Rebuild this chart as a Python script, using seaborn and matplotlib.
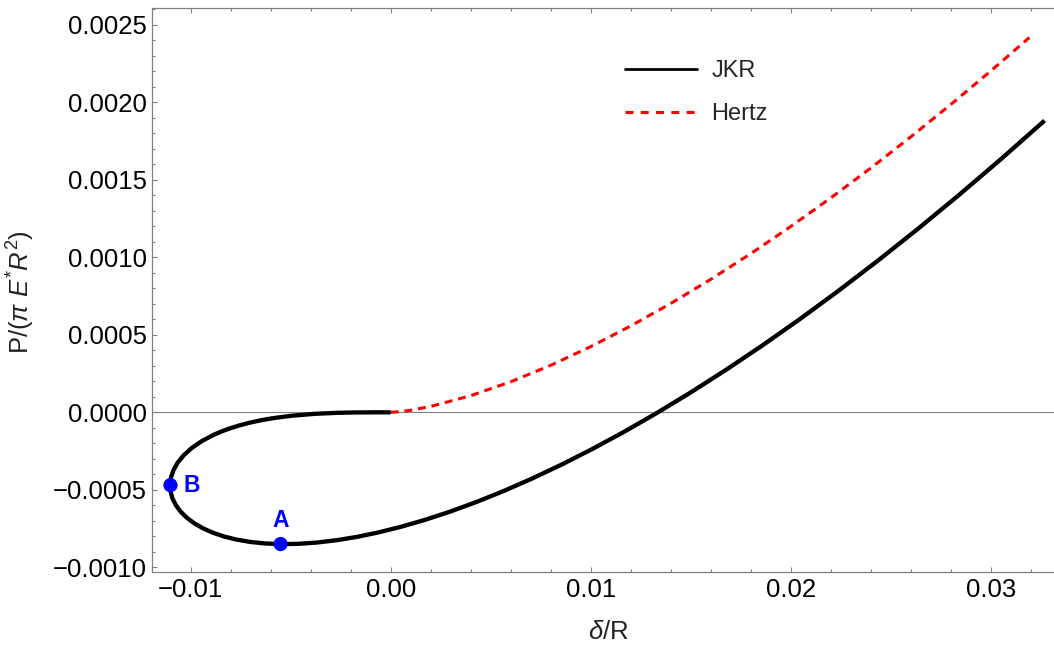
import matplotlib
matplotlib.use("Agg")
import numpy as np
import pandas as pd
import seaborn as sns
import matplotlib.pyplot as plt
from matplotlib.lines import Line2D
from matplotlib.ticker import MultipleLocator

# ---------------- data ----------------
jkr_delta = [0.0, -0.000844, -0.0018865, -0.0026653, -0.0037589, -0.0049448,
             -0.0058687, -0.0065170, -0.0070851, -0.0075897, -0.0080410, -0.0084468,
             -0.0088124, -0.009438, -0.0099414, -0.0103374, -0.0106365, -0.010846,
             -0.0109729, -0.011020, -0.0109923, -0.010892, -0.010721, -0.010482,
             -0.0101766, -0.0098061, -0.009372, -0.008875, -0.008316, -0.007696,
             -0.007016, -0.006276, -0.005478, -0.004621, -0.003705, -0.002733,
             -0.001703, -0.000617, 0.000526, 0.0017252, 0.002980, 0.004290,
             0.005656, 0.007077, 0.008553, 0.010083, 0.011668, 0.013307,
             0.015001, 0.016748, 0.018549, 0.020404, 0.022313, 0.024275,
             0.026291, 0.028360, 0.030481, 0.0326565]
jkr_load = [0.0, -1.075e-7, -1.2016e-6, -3.395e-6, -9.585e-6, -2.2108e-5,
            -3.7573e-5, -5.2272e-5, -6.8373e-5, -8.5688e-5, -1.04076e-4, -1.23406e-4,
            -1.43564e-4, -1.85981e-4, -2.30603e-4, -2.76814e-4, -3.24042e-4, -3.71767e-4,
            -4.19497e-4, -4.66765e-4, -5.13125e-4, -5.58143e-4, -6.01395e-4, -6.42475e-4,
            -6.80987e-4, -7.16525e-4, -7.4871e-4, -7.7716e-4, -8.015e-4, -8.2135e-4,
            -8.3634e-4, -8.4613e-4, -8.5031e-4, -8.4858e-4, -8.4052e-4, -8.2582e-4,
            -8.0409e-4, -7.7505e-4, -7.3828e-4, -6.9343e-4, -6.4017e-4, -5.7819e-4,
            -5.0711e-4, -4.2657e-4, -3.3626e-4, -2.3585e-4, -1.2499e-4, -3.3e-6,
            1.2952e-4, 2.7385e-4, 4.2999e-4, 5.9825e-4, 7.7898e-4, 9.7258e-4,
            1.17931e-3, 1.3995e-3, 1.63357e-3, 1.88178e-3]

hertz_delta = [0.0, 0.0005, 0.001, 0.002, 0.004, 0.006, 0.008, 0.010, 0.012,
               0.014, 0.016, 0.018, 0.020, 0.022, 0.024, 0.026, 0.028, 0.030, 0.0319]
hertz_load = [0.0, 4.745e-6, 1.342e-5, 3.796e-5, 1.0737e-4, 1.9725e-4, 3.0368e-4,
              4.2441e-4, 5.5791e-4, 7.0304e-4, 8.5895e-4, 1.02493e-3, 1.20041e-3,
              1.38491e-3, 1.57799e-3, 1.77929e-3, 1.98850e-3, 2.20530e-3, 2.41808e-3]

point_names = ["A", "B"]
point_delta = [-0.0055, -0.0110]
point_load = [-0.00085, -0.00047]

series_names = ["JKR", "Hertz"]

xticks = [-0.01, 0.0, 0.01, 0.02, 0.03]
xtick_labels = ["\u22120.01", "0.00", "0.01", "0.02", "0.03"]
yticks = [-0.0010, -0.0005, 0.0, 0.0005, 0.0010, 0.0015, 0.0020, 0.0025]
ytick_labels = ["\u22120.0010", "\u22120.0005", "0.0000", "0.0005",
                "0.0010", "0.0015", "0.0020", "0.0025"]

# ---------------- style ----------------
sns.set_theme(style="white")
plt.rcParams['font.family'] = ['Liberation Sans', 'DejaVu Sans']
plt.rcParams['mathtext.fontset'] = 'custom'
plt.rcParams['mathtext.rm'] = 'Liberation Sans'
plt.rcParams['mathtext.it'] = 'Liberation Sans:italic'
plt.rcParams['mathtext.bf'] = 'Liberation Sans:bold'

W, H = 1054, 646
fig = plt.figure(figsize=(W / 100, H / 100), dpi=100)
ax = fig.add_axes([152 / W, 1 - 572 / H, 902 / W, 564 / H])

gray = '#808080'
ax.axhline(0, color=gray, lw=0.8, zorder=1)

jkr_df = pd.DataFrame({"delta": jkr_delta, "load": jkr_load})
hertz_df = pd.DataFrame({"delta": hertz_delta, "load": hertz_load})
pts_df = pd.DataFrame({"delta": point_delta, "load": point_load, "name": point_names})

sns.lineplot(data=jkr_df, x="delta", y="load", sort=False, estimator=None,
             color='black', lw=3.1, ax=ax, zorder=3, solid_joinstyle='round',
             solid_capstyle='butt')
hz = sns.lineplot(data=hertz_df, x="delta", y="load", sort=False, estimator=None,
                  color='red', lw=2.2, ax=ax, zorder=2)
hz.lines[-1].set_dashes((2.6, 1.9))
hz.lines[-1].set_dash_capstyle('butt')

sns.scatterplot(data=pts_df, x="delta", y="load", color=(0, 0, 1), s=105,
                edgecolor='none', ax=ax, zorder=5)
offsets = {"A": (0, 17), "B": (15, 0)}
for nm, xv, yv in zip(point_names, point_delta, point_load):
    ax.annotate(nm, (xv, yv), xytext=offsets[nm], textcoords='offset points',
                ha='center', va='center', color=(0, 0, 1), fontweight='bold',
                fontsize=16.5, zorder=6)

# axes limits / ticks
ax.set_xlim(-0.011923, 0.03313)
ax.set_ylim(-0.0010303, 0.0026084)
ax.set_xticks(xticks, labels=xtick_labels)
ax.set_yticks(yticks, labels=ytick_labels)
ax.xaxis.set_minor_locator(MultipleLocator(0.002))
ax.yaxis.set_minor_locator(MultipleLocator(0.0001))
ax.tick_params(axis='both', which='major', direction='in', length=3.8, width=0.8,
               color=gray, labelsize=18.5, labelcolor='black')
ax.tick_params(axis='both', which='minor', direction='in', length=2.2, width=0.8,
               color=gray)
ax.tick_params(axis='x', which='both', top=True, bottom=True, labeltop=False, pad=4.0)
ax.tick_params(axis='y', which='both', left=True, right=False, pad=3.6)

for side in ['left', 'bottom', 'top']:
    ax.spines[side].set_color(gray)
    ax.spines[side].set_linewidth(0.9)
ax.spines['right'].set_visible(False)

ax.set_xlabel(r"$\delta$/R", fontsize=18.5, color='#222222')
ax.set_ylabel(r"P/($\pi$ $E^{*}R^{2}$)", fontsize=18.5, color='#222222')
ax.xaxis.set_label_coords(0.5055, -0.085)
ax.yaxis.set_label_coords(-0.1275, 0.497)

handles = [Line2D([], [], color='black', lw=2.0),
           Line2D([], [], color='red', lw=2.2, dashes=(2.6, 2.4), dash_capstyle='butt')]
leg = ax.legend(handles, series_names, loc='upper left', bbox_to_anchor=(0.5244, 0.908),
                frameon=False, fontsize=17, handlelength=3.05, handletextpad=0.6,
                borderpad=0, borderaxespad=0, labelspacing=0.9)

fig.savefig("out.png", dpi=100)
